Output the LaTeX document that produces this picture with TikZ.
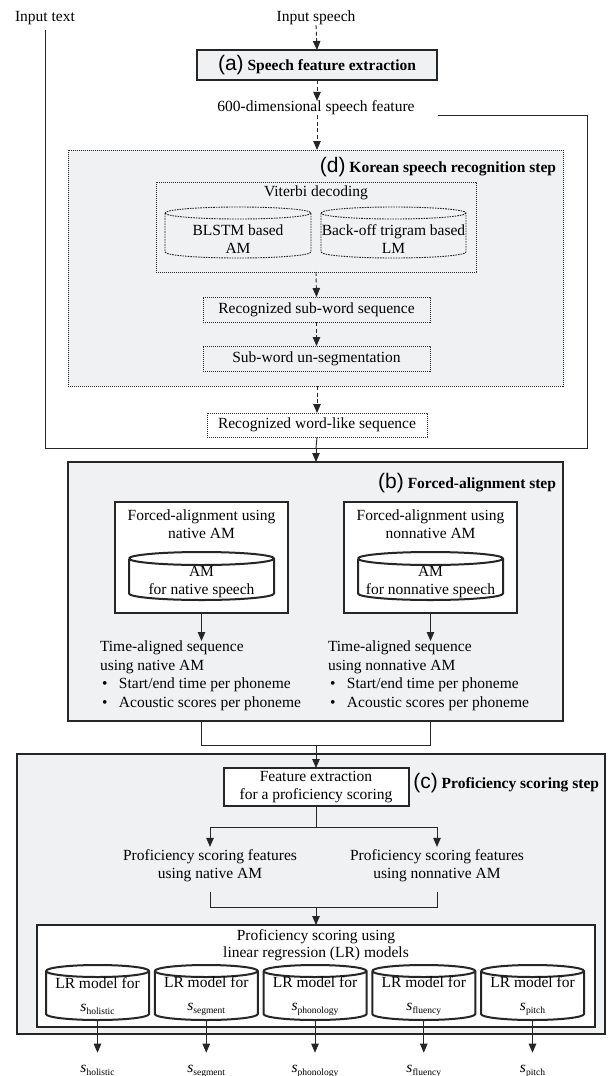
\documentclass[tikz,border=0pt]{standalone}
\usepackage{fontspec}
\setmainfont{Liberation Serif}
\newfontfamily\sansf{Liberation Sans}
\usetikzlibrary{arrows.meta,calc}
\definecolor{bgray}{RGB}{240,241,243}
\definecolor{edge}{RGB}{38,38,38}
\newcommand\fs{\fontsize{15.5}{18}\selectfont}
\newcommand\tagl[1]{{\sansf\fontsize{21}{21}\selectfont(#1)}}
\newcommand\sv[1]{\textit{s}\raisebox{-3pt}{\fontsize{9.5}{10}\selectfont #1}}
\newcommand\bul{\hspace*{2pt}\makebox[17pt][l]{\textbullet}}
% cylinder outline around an (empty) node: name, y-radius of the ellipse, style
\newcommand\cyl[3]{%
  \draw[#3] let \p1=(#1.north west), \p2=(#1.south east), \n1={(\x2-\x1)/2} in
    (\x1,\y1-#2pt) -- (\x1,\y2+#2pt) arc[start angle=180,end angle=360,x radius=\n1,y radius=#2pt]
    -- (\x2,\y1-#2pt) arc[start angle=0,end angle=180,x radius=\n1,y radius=#2pt]
    (\x2,\y1-#2pt) arc[start angle=0,end angle=-180,x radius=\n1,y radius=#2pt];}
\begin{document}
\begin{tikzpicture}[x=1pt,y=1pt,
  every node/.style={font=\fs, inner sep=0pt, outer sep=0pt, align=center},
  ln/.style={line width=0.9pt, draw=edge},
  arr/.style={ln, -{Triangle[length=9pt,width=7.5pt]}},
  darr/.style={arr, dash pattern=on 4pt off 2.5pt},
  dotted box/.style={draw=edge, line width=0.9pt, dash pattern=on 1.1pt off 0.9pt, fill=bgray},
  dotted plain/.style={draw=edge, line width=0.9pt, dash pattern=on 1.1pt off 0.9pt, fill=white},
  big box/.style={draw=edge, line width=2.2pt, fill=bgray},
  white box/.style={draw=edge, line width=2pt, fill=white},
  cyl dot/.style={draw=edge, line width=0.9pt, dash pattern=on 1.6pt off 1pt},
  cyl thick/.style={draw=edge, line width=2pt},
]
\useasboundingbox (0,0) rectangle (612,-1076);

% ---------- top ----------
\node (intext) at (45,-18) {Input text};
\node (inspeech) at (316,-18) {Input speech};
\node[draw=edge, line width=2.6pt, fill=bgray, minimum width=240, minimum height=30] (boxa) at (317,-65)
  {\tagl{a} \textbf{Speech feature extraction}};
\node (feat600) at (316,-108) {600-dimensional speech feature};

% ---------- (d) ----------
\node[dotted box, minimum width=495, minimum height=236] (dbox) at (315.5,-268) {};
\node[anchor=east] (dtitle) at (556,-167) {\tagl{d} \textbf{Korean speech recognition step}};
\node[dotted box, minimum width=320, minimum height=90] (vit) at (316,-227) {};
\node (vittxt) at (316,-193) {Viterbi decoding};
\node[minimum width=146, minimum height=51] (am) at (238,-232.5) {};
\node[minimum width=145, minimum height=51] (lm) at (393.5,-232.5) {};
\cyl{am}{6}{cyl dot}
\cyl{lm}{6}{cyl dot}
\node (amtxt) at (238,-239) {BLSTM based\\AM};
\node (lmtxt) at (393.5,-239) {Back-off trigram based\\LM};
\node[dotted box, minimum width=227, minimum height=25] (subw) at (316.5,-309.5) {Recognized sub-word sequence};
\node[dotted box, minimum width=227, minimum height=25] (unseg) at (316.5,-358.5) {Sub-word un-segmentation};
\node[dotted plain, minimum width=220, minimum height=24] (wordl) at (317,-425) {Recognized word-like sequence};

\draw[darr] (inspeech.south) -- (boxa.north);
\draw[darr] (boxa.south) -- (boxa.south |- feat600.north);
\draw[darr] (boxa.south |- feat600.south) -- (boxa.south |- dbox.north);
\draw[darr] (vit.south) -- (subw.north);
\draw[darr] (subw.south) -- (unseg.north);
\draw[darr] (wordl.north |- dbox.south) -- (wordl.north);

% inputs joining
\coordinate (j1) at (316,-448);
\coordinate (rc) at (587,-115);
\draw[ln] ([yshift=-5pt]intext.south) -- (intext.south |- j1) -- (j1);
\draw[ln] ([xshift=23pt]feat600.east |- rc) -- (rc) |- (j1);
\draw[ln] (wordl.south) -- (j1);

% ---------- (b) ----------
\node[big box, minimum width=495, minimum height=259] (bbox) at (315.5,-591.5) {};
\draw[arr] (j1) -- (j1 |- bbox.north);
\node[anchor=east] (btitle) at (556,-483) {\tagl{b} \textbf{Forced-alignment step}};
\node[white box, minimum width=173, minimum height=111] (lfa) at (201.5,-557.5) {};
\node[white box, minimum width=173, minimum height=111] (rfa) at (430.5,-557.5) {};
\node (lfatxt) at (201.5,-524) {Forced-alignment using\\native AM};
\node (rfatxt) at (430.5,-524) {Forced-alignment using\\nonnative AM};
\node[minimum width=145, minimum height=48] (lcyl) at (201.5,-576) {};
\node[minimum width=145, minimum height=48] (rcyl) at (430.5,-576) {};
\cyl{lcyl}{6.5}{cyl thick}
\cyl{rcyl}{6.5}{cyl thick}
\node (lcyltxt) at (201.5,-582) {AM\\for native speech};
\node (rcyltxt) at (430.5,-582) {AM\\for nonnative speech};
\node[anchor=north west, align=left, font=\fontsize{15.5}{18.5}\selectfont] (ltl) at (100,-641)
  {Time-aligned sequence\\using native AM\\\bul Start/end time per phoneme\\\bul Acoustic scores per phoneme};
\node[anchor=north west, align=left, font=\fontsize{15.5}{18.5}\selectfont] (rtl) at (328,-641)
  {Time-aligned sequence\\using nonnative AM\\\bul Start/end time per phoneme\\\bul Acoustic scores per phoneme};
\draw[arr] (lfa.south) -- (lfa.south |- ltl.north);
\draw[arr] (rfa.south) -- (rfa.south |- rtl.north);

% ---------- (c) ----------
\node[big box, minimum width=588, minimum height=280] (cbox) at (311,-894) {};
\node[anchor=east] (ctitle) at (599,-783) {\tagl{c} \textbf{Proficiency scoring step}};
\node[white box, minimum width=185, minimum height=38, font=\fontsize{15.5}{17.5}\selectfont] (featx) at (316,-787)
  {Feature extraction\\for a proficiency scoring};
\coordinate (j2) at (316,-745);
\draw[ln] (lfa.south |- bbox.south) -- (lfa.south |- j2) -- (rfa.south |- j2) -- (rfa.south |- bbox.south);
\draw[arr] (j2) -- (featx.north);

\node (pl) at (210,-866) {Proficiency scoring features\\using native AM};
\node (pr) at (437,-866) {Proficiency scoring features\\using nonnative AM};
\coordinate (j3) at (316,-827);
\draw[ln] (featx.south) -- (j3);
\draw[ln] (pl.north |- j3) -- (pr.north |- j3);
\draw[arr] (pl.north |- j3) -- ([yshift=3pt]pl.north);
\draw[arr] (pr.north |- j3) -- ([yshift=3pt]pr.north);

\node[white box, minimum width=558, minimum height=102] (lrbox) at (316,-976) {};
\coordinate (j4) at (316,-907);
\draw[ln, shorten <=10pt, shorten >=10pt] (pl.south) -- (pl.south |- j4) -- (pr.south |- j4) -- (pr.south);
\draw[arr] (j4) -- (lrbox.north);
\node[font=\fontsize{15.5}{17}\selectfont] (lrtxt) at (316,-945) {Proficiency scoring using\\linear regression (LR) models};

\foreach \i/\x/\lab in {1/97.5/holistic, 2/206.25/segment, 3/315/phonology, 4/423.75/fluency, 5/532.5/pitch}{
  \node[minimum width=103, minimum height=55] (lr\i) at (\x,-992.5) {};
  \cyl{lr\i}{6}{cyl thick}
  \node[font=\fontsize{15.5}{23}\selectfont] (lrt\i) at (\x,-996) {LR model for\\\sv{\lab}};
  \node[anchor=base] (o\i) at (\x,-1072) {\sv{\lab}};
  \draw[arr, shorten >=12pt] (lr\i.south) -- (o\i.north);
}
\end{tikzpicture}
\end{document}
